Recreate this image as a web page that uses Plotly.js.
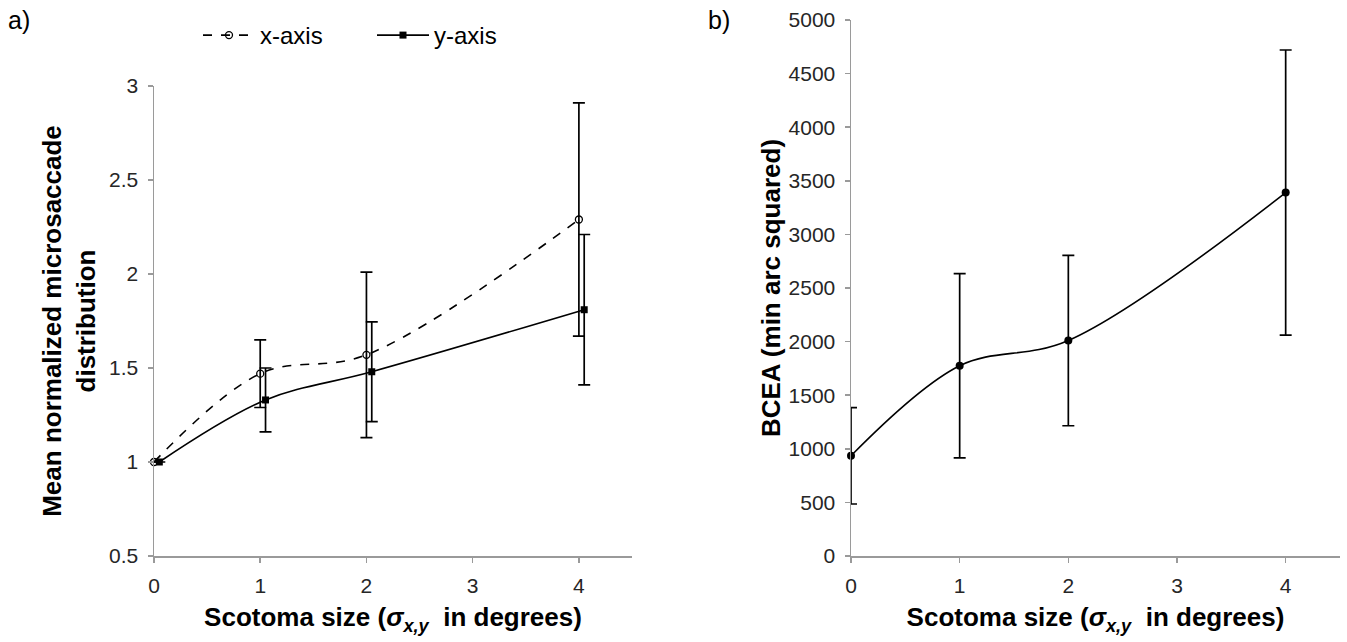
<!DOCTYPE html>
<html>
<head>
<meta charset="utf-8">
<script src="https://cdn.plot.ly/plotly-3.0.1.min.js"></script>
<style>html,body{margin:0;padding:0;background:#fff;}#chart{width:1347px;height:642px;}</style>
</head>
<body>
<div id="chart"></div>
<script>
// Scotoma sizes (degrees)
const scotomaSizes = [0, 1, 2, 4];

// Panel a: mean normalized microsaccade distribution
const xAxisMean = [1.00, 1.47, 1.57, 2.29];
const xAxisErr  = [0, 0.18, 0.44, 0.62];
const yAxisMean = [1.00, 1.33, 1.48, 1.81];
const yAxisErr  = [0, 0.17, 0.265, 0.40];

// Panel b: BCEA (min arc squared)
const bceaMean = [935, 1775, 2010, 3390];
const bceaErr  = [450, 860, 795, 1330];

// Tick labels
const xTickVals = [0, 1, 2, 3, 4];
const yTickValsA = [0.5, 1, 1.5, 2, 2.5, 3];
const yTickValsB = [0, 500, 1000, 1500, 2000, 2500, 3000, 3500, 4000, 4500, 5000];

const seriesOffset = 0.05; // small horizontal offset so the two series don't overlap
const yAxisX = scotomaSizes.map(v => v + seriesOffset);

const FONT = 'Liberation Sans, Arial, sans-serif';
const AX = '#9a9a9a';

const traces = [
  {
    x: scotomaSizes, y: xAxisMean, name: 'x-axis', type: 'scatter', mode: 'lines+markers', cliponaxis: false,
    line: {color: '#000', width: 1.6, dash: 'dash', shape: 'spline', smoothing: 1},
    marker: {symbol: 'circle-open', size: 7, color: '#000', line: {width: 1.3, color: '#000'}},
    error_y: {type: 'data', array: xAxisErr, visible: true, color: '#000', thickness: 1.7, width: 6},
    xaxis: 'x', yaxis: 'y'
  },
  {
    x: yAxisX, y: yAxisMean, name: 'y-axis', type: 'scatter', mode: 'lines+markers', cliponaxis: false,
    line: {color: '#000', width: 1.6, shape: 'spline', smoothing: 1},
    marker: {symbol: 'square', size: 7, color: '#000'},
    error_y: {type: 'data', array: yAxisErr, visible: true, color: '#000', thickness: 1.7, width: 6},
    xaxis: 'x', yaxis: 'y'
  },
  {
    x: scotomaSizes, y: bceaMean, name: 'BCEA', type: 'scatter', mode: 'lines+markers', showlegend: false, cliponaxis: false,
    line: {color: '#000', width: 1.6, shape: 'spline', smoothing: 1},
    marker: {symbol: 'circle', size: 8, color: '#000'},
    error_y: {type: 'data', array: bceaErr, visible: true, color: '#000', thickness: 1.7, width: 6},
    xaxis: 'x2', yaxis: 'y2'
  }
];

const xTitle = 'Scotoma size (<i>σ</i><sub><i>x,y</i></sub>  in degrees)';
const tickFont = {family: FONT, size: 21, color: '#262626'};
const titleFont = {family: FONT, size: 26, color: '#000', weight: 'bold'};

function axisBase() {
  return {
    showgrid: false, zeroline: false, showline: true, linecolor: AX, linewidth: 1.5,
    ticks: 'outside', tickcolor: AX, ticklen: 5, tickwidth: 1.5, ticklabelstandoff: 5,
    tickfont: tickFont, automargin: false
  };
}

const layout = {
  width: 1347, height: 642,
  margin: {l: 0, r: 0, t: 0, b: 0},
  paper_bgcolor: '#fff', plot_bgcolor: '#fff',
  font: {family: FONT},
  showlegend: true,
  legend: {
    orientation: 'h', x: 198/1347, y: 1 - 13/642, xanchor: 'left', yanchor: 'top',
    font: {family: FONT, size: 24, color: '#000'}, itemwidth: 52,
    entrywidth: 107, entrywidthmode: 'pixels', bgcolor: 'rgba(0,0,0,0)'
  },
  xaxis: Object.assign(axisBase(), {
    domain: [154/1347, 632/1347], range: [0, 4.5], tickvals: xTickVals, anchor: 'y',
    title: {text: xTitle, font: titleFont, standoff: 12}
  }),
  yaxis: Object.assign(axisBase(), {
    domain: [1 - 556/642, 1 - 86/642], range: [0.5, 3], tickvals: yTickValsA, anchor: 'x',
    title: {text: 'Mean normalized microsaccade<br>distribution', font: titleFont, standoff: 6}
  }),
  xaxis2: Object.assign(axisBase(), {
    domain: [851/1347, 1340/1347], range: [0, 4.5], tickvals: xTickVals, anchor: 'y2',
    title: {text: xTitle, font: titleFont, standoff: 12}
  }),
  yaxis2: Object.assign(axisBase(), {
    domain: [1 - 556/642, 1 - 20/642], range: [0, 5000], tickvals: yTickValsB, anchor: 'x2',
    title: {text: 'BCEA (min arc squared)', font: titleFont, standoff: 0}
  }),
  annotations: [
    {text: 'a)', x: 6/1347, y: 1 - 4/642, xref: 'paper', yref: 'paper', xanchor: 'left', yanchor: 'top',
     showarrow: false, font: {family: FONT, size: 25, color: '#000'}},
    {text: 'b)', x: 706/1347, y: 1 - 4/642, xref: 'paper', yref: 'paper', xanchor: 'left', yanchor: 'top',
     showarrow: false, font: {family: FONT, size: 25, color: '#000'}}
  ]
};

Plotly.newPlot('chart', traces, layout, {displayModeBar: false, staticPlot: true});
</script>
</body>
</html>
